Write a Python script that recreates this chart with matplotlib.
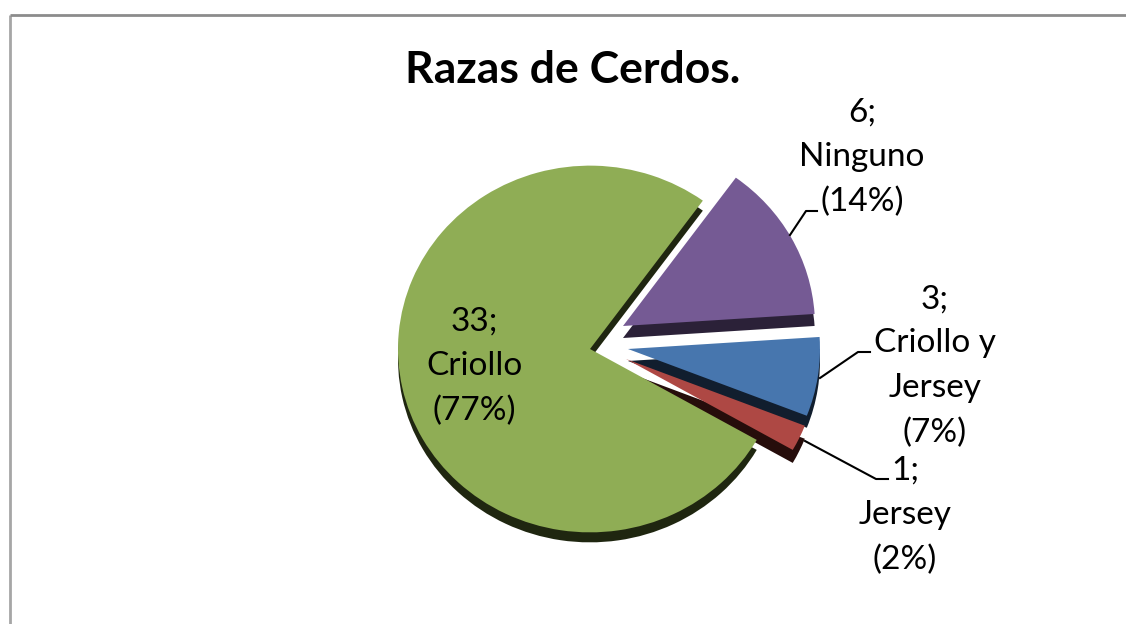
import matplotlib
matplotlib.use("Agg")
import matplotlib.pyplot as plt

categories = ["Criollo", "Jersey", "Criollo y\nJersey", "Ninguno"]
values = [33, 1, 3, 6]
percents = ["77%", "2%", "7%", "14%"]
face_colors = ["#8FAD55", "#AE4844", "#4776AE", "#755A94"]
side_colors = ["#1F2610", "#260D0B", "#111E2E", "#2B2138"]
slice_shift_x = [0, 36, 38, 33]
slice_shift_y = [0, -10, 0, 23]
slice_depth = [10, 13, 12, 12]

W, H = 1126, 624
Y_SCALE = 0.955
plt.rcParams["font.family"] = ["Lato", "DejaVu Sans"]

fig = plt.figure(figsize=(W / 100, H / 100), dpi=100, facecolor="white")
ax = fig.add_axes([0, 0, 1, 1])

def py(y):
    return (H - y) / Y_SCALE

center = (590, py(349))
radius = 192
start = 54

side, _ = ax.pie(values, colors=side_colors, startangle=start, radius=radius,
                 center=center, frame=True, wedgeprops=dict(linewidth=0))
face, _ = ax.pie(values, colors=face_colors, startangle=start, radius=radius,
                 center=center, frame=True, wedgeprops=dict(linewidth=0))
for i in range(len(values)):
    cx = center[0] + slice_shift_x[i]
    cy = center[1] + slice_shift_y[i] / Y_SCALE
    face[i].set_center((cx, cy))
    side[i].set_center((cx, cy - slice_depth[i] / Y_SCALE))
ax.set_aspect("auto")
ax.set_xlim(0, W)
ax.set_ylim(0, H / Y_SCALE)
ax.axis("off")

# chart frame
ax.plot([9.5, 9.5], [py(H), py(15)], color="#A6A6A6", lw=2, solid_capstyle="butt")
ax.plot([9.5, W], [py(15), py(15)], color="#8C8C8C", lw=2, solid_capstyle="butt")

ax.text(573, py(70), "Razas de Cerdos.", ha="center", va="center",
        fontsize=32, fontweight="bold", color="black")

labels = [
    (f"{values[0]};\n{categories[0]}\n({percents[0]})", 474, 366),
    (f"{values[1]};\n{categories[1]}\n({percents[1]})", 905, 515),
    (f"{values[2]};\n{categories[2]}\n({percents[2]})", 935, 366),
    (f"{values[3]};\n{categories[3]}\n({percents[3]})", 862, 157),
]
for text, x, y in labels:
    ax.text(x, py(y), text, ha="center", va="center", fontsize=24,
            color="black", linespacing=1.6)

# leader lines
leaders = [
    ([790, 806, 817], [235, 211, 211]),
    ([820, 858, 870], [378, 352, 352]),
    ([805, 876, 888], [441, 479, 479]),
]
for xs, ys in leaders:
    ax.plot(xs, [py(v) for v in ys], color="black", lw=1.5)

fig.savefig("out.png", dpi=100, facecolor="white")
